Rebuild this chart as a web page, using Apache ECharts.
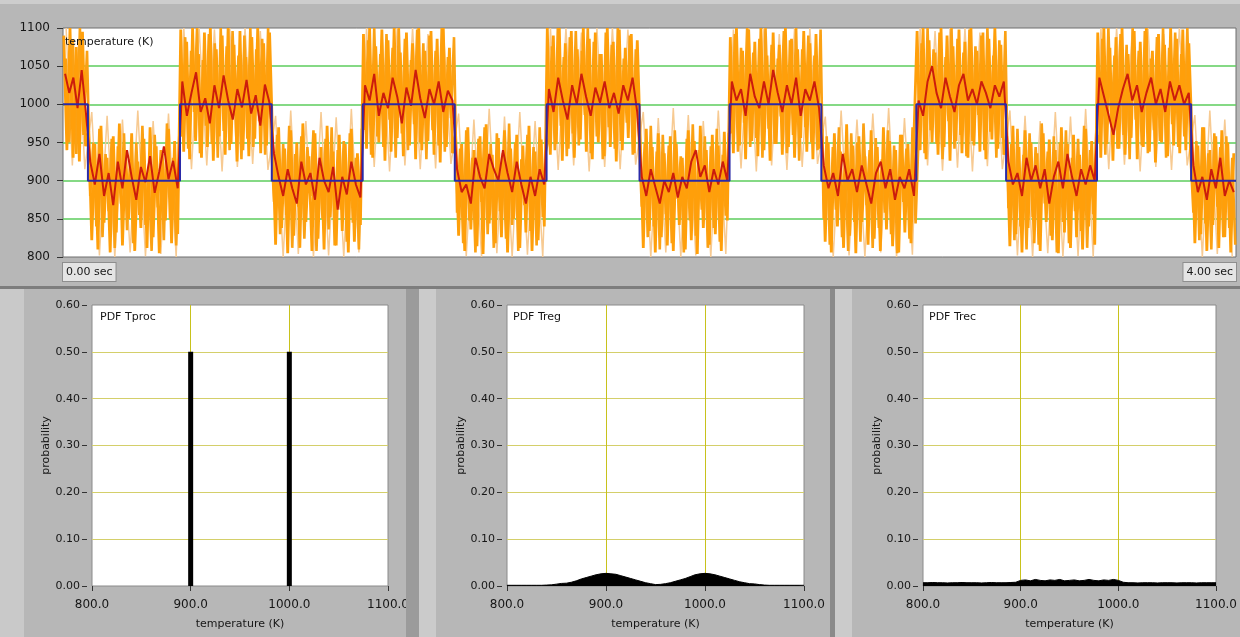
<!DOCTYPE html>
<html>
<head>
<meta charset="utf-8">
<title>PDF Tproc / Treg / Trec</title>
<script src="https://cdn.jsdelivr.net/npm/echarts@6/dist/echarts.min.js"></script>
<style>
  html, body { margin: 0; padding: 0; background: #b7b7b7; }
  #chart { width: 1240px; height: 637px; }
</style>
</head>
<body>
<div id="chart"></div>
<script>
// setpoint switching times (sec) and the Tproc level of each interval (K)
const segEdges = [0, 0.085, 0.399, 0.712, 1.022, 1.336, 1.649, 1.966, 2.273, 2.586, 2.910, 3.216, 3.526, 3.847, 4.0];
const tprocLevels = [1000, 900, 1000, 900, 1000, 900, 1000, 900, 1000, 900, 1000, 900, 1000, 900];

// Trec (orange), one row per interval, samples
const trecSegs = [
  [1090, 940, 1100, 930, 1075, 925, 1095, 945],
  [965, 822, 948, 810, 972, 845, 930, 806, 958, 832, 975, 815, 940, 850, 962, 808, 925, 838, 955, 812, 970, 826, 945, 805, 935, 848, 968, 818, 952, 830],
  [1098, 938, 1082, 928, 1100, 952, 1066, 930, 1094, 944, 1100, 926, 1072, 958, 1090, 934, 1100, 948, 1078, 925, 1096, 940, 1062, 932, 1088, 955, 1100, 936, 1080, 946, 1094],
  [958, 816, 970, 838, 942, 805, 966, 828, 950, 812, 975, 846, 932, 808, 962, 824, 944, 810, 972, 852, 938, 815, 960, 834, 948, 806, 968, 820, 936, 842],
  [1092, 942, 1100, 930, 1076, 950, 1098, 926, 1084, 938, 1100, 956, 1068, 932, 1094, 946, 1080, 928, 1100, 940, 1070, 952, 1096, 934, 1086, 924, 1100, 944, 1074, 936],
  [962, 828, 948, 808, 970, 836, 940, 814, 958, 804, 974, 844, 934, 818, 956, 826, 966, 806, 942, 850, 960, 812, 946, 832, 972, 808, 938, 822, 954, 840],
  [1100, 934, 1090, 948, 1100, 926, 1080, 942, 1096, 930, 1072, 954, 1100, 938, 1086, 928, 1094, 950, 1066, 932, 1100, 944, 1082, 925, 1098, 940, 1074, 956, 1092, 936, 1084],
  [955, 812, 968, 834, 944, 806, 962, 826, 936, 815, 958, 808, 948, 842, 930, 810, 966, 822, 952, 804, 972, 838, 940, 816, 960, 830, 946, 808, 964, 848],
  [1088, 936, 1100, 946, 1070, 928, 1098, 952, 1082, 932, 1100, 940, 1064, 926, 1094, 948, 1078, 934, 1100, 944, 1086, 930, 1072, 956, 1096, 938, 1080, 928, 1092, 942],
  [968, 820, 950, 806, 962, 840, 938, 812, 974, 828, 946, 805, 958, 846, 932, 816, 966, 824, 944, 808, 970, 836, 952, 814, 940, 806, 960, 832, 948, 818, 964],
  [1096, 940, 1100, 928, 1084, 950, 1068, 934, 1100, 944, 1090, 926, 1076, 952, 1098, 936, 1082, 930, 1100, 946, 1070, 938, 1094, 928, 1086, 954, 1100, 942, 1078, 934],
  [958, 814, 972, 830, 944, 806, 966, 838, 950, 818, 936, 808, 962, 846, 954, 822, 940, 805, 970, 832, 948, 812, 960, 826, 934, 810, 968, 840, 952, 816],
  [1094, 930, 1100, 948, 1074, 926, 1088, 942, 1100, 934, 1066, 956, 1096, 928, 1082, 944, 1100, 938, 1070, 924, 1092, 950, 1078, 932, 1100, 946, 1086, 936, 1098, 940, 1080],
  [962, 818, 946, 830, 970, 808, 940, 842, 958, 812, 966, 826, 950, 806, 936]
];

// in-between Trec samples (the trace is denser than one row can hold)
const trecSegsB = [
  [1060, 950, 1085, 935, 1100, 960, 1070],
  [880, 950, 840, 968, 826, 935, 860, 955, 812, 945, 870, 962, 835, 928, 818, 950, 855, 972, 842, 918, 808, 960, 865, 940, 822, 975, 850, 930, 815, 958],
  [960, 1088, 942, 1070, 990, 1100, 936, 1058, 972, 1092, 948, 1080, 930, 1100, 965, 1076, 940, 1096, 985, 1064, 928, 1090, 955, 1100, 944, 1072, 978, 1086, 934, 1100, 952],
  [872, 960, 830, 948, 855, 972, 812, 935, 866, 958, 824, 944, 880, 966, 808, 925, 850, 955, 836, 970, 815, 940, 862, 952, 820, 962, 845, 930, 810, 968],
  [968, 1084, 934, 1100, 958, 1066, 944, 1092, 980, 1074, 930, 1100, 962, 1086, 940, 1058, 974, 1098, 950, 1080, 928, 1090, 966, 1070, 946, 1100, 938, 1062, 982, 1088],
  [858, 942, 818, 966, 848, 930, 806, 955, 872, 970, 830, 948, 812, 962, 860, 936, 824, 975, 842, 950, 808, 928, 868, 960, 834, 944, 815, 970, 852, 938],
  [956, 1076, 940, 1100, 972, 1062, 932, 1088, 962, 1096, 946, 1070, 986, 1100, 936, 1082, 958, 1066, 928, 1094, 970, 1078, 942, 1100, 952, 1060, 976, 1090, 934, 1072, 960],
  [866, 950, 826, 972, 840, 938, 810, 960, 856, 946, 818, 966, 876, 932, 806, 955, 848, 974, 828, 940, 862, 958, 812, 945, 838, 968, 820, 934, 854, 962],
  [964, 1092, 938, 1074, 976, 1100, 944, 1068, 956, 1086, 930, 1100, 968, 1078, 948, 1060, 984, 1096, 936, 1084, 960, 1100, 926, 1072, 970, 1090, 950, 1064, 940, 1098],
  [850, 958, 816, 944, 862, 970, 826, 936, 808, 962, 846, 950, 820, 975, 868, 940, 812, 956, 838, 928, 858, 966, 830, 946, 805, 960, 872, 942, 824, 970, 844],
  [958, 1080, 936, 1100, 966, 1072, 948, 1094, 928, 1062, 978, 1100, 942, 1086, 960, 1068, 932, 1098, 952, 1076, 986, 1090, 940, 1100, 964, 1064, 930, 1084, 956, 1096],
  [864, 948, 822, 968, 840, 934, 810, 962, 852, 944, 816, 975, 870, 938, 828, 958, 806, 950, 846, 966, 818, 930, 860, 955, 834, 972, 812, 940, 856, 962],
  [950, 1086, 934, 1100, 970, 1064, 942, 1092, 960, 1078, 928, 1100, 980, 1070, 946, 1096, 936, 1060, 966, 1088, 952, 1100, 930, 1074, 974, 1094, 944, 1066, 958, 1100, 938],
  [858, 952, 822, 970, 844, 936, 810, 962, 866, 944, 826, 958, 838, 930, 816]
];

// faint outer spikes of Trec
const trecPaleSegs = [
  [1100, 920, 1080, 915],
  [990, 802, 985, 800, 980, 806, 992, 801, 978, 804, 988, 800],
  [1100, 915, 1100, 920, 1098, 912, 1100, 918, 1100, 922, 1096, 914],
  [985, 800, 992, 804, 978, 800, 990, 802, 983, 800, 994, 806],
  [1100, 918, 1096, 912, 1100, 920, 1100, 915, 1092, 916, 1100, 922],
  [988, 801, 980, 800, 994, 805, 984, 800, 990, 803, 978, 800],
  [1100, 914, 1100, 920, 1094, 912, 1100, 918, 1100, 915, 1098, 921],
  [990, 800, 982, 806, 995, 800, 986, 802, 978, 800, 992, 804],
  [1098, 916, 1100, 912, 1100, 920, 1092, 914, 1100, 918, 1100, 922],
  [984, 800, 992, 802, 980, 800, 988, 806, 995, 800, 982, 803],
  [1100, 920, 1096, 913, 1100, 917, 1100, 912, 1094, 919, 1100, 915],
  [992, 802, 985, 800, 978, 805, 990, 800, 984, 801, 994, 800],
  [1100, 915, 1100, 921, 1098, 912, 1100, 918, 1092, 914, 1100, 920],
  [986, 800, 992, 804, 980, 800]
];

// Treg (red)
const tregSegs = [
  [1040, 1015, 1035, 995, 1045, 990],
  [925, 895, 935, 880, 910, 868, 925, 890, 940, 905, 875, 918, 898, 932, 884, 912, 945, 902, 926, 890],
  [1030, 985, 1015, 1042, 990, 1008, 975, 1025, 995, 1038, 1005, 980, 1020, 996, 1032, 988, 1012, 972, 1026, 1002],
  [935, 905, 880, 915, 890, 870, 925, 895, 910, 875, 930, 900, 885, 918, 862, 905, 882, 925, 895, 878],
  [1025, 1005, 1040, 985, 1015, 995, 1035, 1010, 975, 1022, 998, 1045, 1008, 982, 1020, 1000, 1030, 990, 1018, 1005],
  [915, 885, 895, 870, 930, 905, 890, 935, 915, 900, 940, 910, 885, 925, 895, 870, 905, 880, 915, 895],
  [1020, 990, 1035, 1005, 980, 1025, 1000, 1040, 1010, 985, 1022, 1002, 1030, 995, 1015, 988, 1025, 1005, 1035, 990],
  [905, 880, 915, 892, 870, 900, 885, 910, 878, 905, 890, 925, 940, 905, 920, 885, 915, 895, 925, 900],
  [1030, 1005, 1020, 985, 1040, 1010, 995, 1030, 1000, 1045, 1015, 990, 1025, 1000, 1035, 985, 1020, 1005, 1030, 995],
  [920, 890, 910, 880, 935, 900, 915, 885, 920, 895, 870, 910, 925, 890, 915, 875, 905, 890, 915, 880],
  [1005, 985, 1030, 1050, 1015, 995, 1035, 1010, 990, 1025, 1040, 1005, 1020, 1000, 1030, 1015, 995, 1025, 1010, 1030],
  [925, 895, 910, 880, 930, 900, 920, 890, 915, 870, 905, 925, 890, 935, 905, 880, 915, 895, 920, 900],
  [1035, 1010, 985, 960, 995, 1020, 1040, 1005, 1025, 990, 1015, 1035, 1000, 1020, 990, 1030, 1005, 1025, 1000, 1015],
  [920, 885, 905, 875, 915, 890, 930, 880, 900, 885]
];

// probability density, bins of 5 K from 800 to 1100
const pdfBinStart = 800;
const pdfBinStep = 5;
const tprocPdf = [[900, 0.50], [1000, 0.50]];
const tregPdf = [
  0.0015, 0.0015, 0.0015, 0.0015, 0.0015, 0.0015, 0.0015, 0.0015, 0.002, 0.0025,
  0.004, 0.0055, 0.006, 0.008, 0.011, 0.015, 0.018, 0.021, 0.024, 0.026,
  0.027, 0.026, 0.025, 0.022, 0.019, 0.016, 0.013, 0.010, 0.007, 0.005,
  0.003, 0.0035, 0.005, 0.007, 0.010, 0.013, 0.016, 0.020, 0.024, 0.026,
  0.027, 0.026, 0.024, 0.021, 0.018, 0.015, 0.012, 0.009, 0.007, 0.005,
  0.0045, 0.003, 0.002, 0.0015, 0.0015, 0.0015, 0.0015, 0.0015, 0.0015, 0.0015, 0.0015
];
const trecPdf = [
  0.007, 0.007, 0.0075, 0.007, 0.007, 0.0065, 0.007, 0.007, 0.0075, 0.007,
  0.007, 0.007, 0.0065, 0.007, 0.0075, 0.007, 0.007, 0.007, 0.0075, 0.008,
  0.012, 0.013, 0.011, 0.014, 0.012, 0.011, 0.013, 0.012, 0.014, 0.011,
  0.012, 0.013, 0.011, 0.012, 0.014, 0.012, 0.011, 0.013, 0.012, 0.014,
  0.012, 0.008, 0.007, 0.007, 0.0065, 0.007, 0.007, 0.007, 0.0065, 0.007,
  0.007, 0.007, 0.0065, 0.007, 0.007, 0.007, 0.0065, 0.007, 0.007, 0.007, 0.007
];

const font = '"DejaVu Sans", Verdana, sans-serif';
const textColor = '#161616';

// place each interval's samples evenly across its time span
function spread(segs, shift) {
  const out = [];
  segs.forEach((vals, k) => {
    const t0 = segEdges[k], t1 = segEdges[k + 1];
    const step = (t1 - t0) / vals.length;
    vals.forEach((v, j) => out.push([t0 + (j + shift) * step, v]));
  });
  return out;
}

function binned(vals) {
  return vals.map((v, i) => [pdfBinStart + i * pdfBinStep, v]);
}

const tprocPath = [];
tprocLevels.forEach((lv, k) => {
  tprocPath.push([segEdges[k], lv], [segEdges[k + 1], lv]);
});

const pdfGrids = [
  { left: 92, top: 305, width: 296, height: 281 },
  { left: 507, top: 305, width: 297, height: 281 },
  { left: 923, top: 305, width: 295, height: 281 },
];

function pdfX(i) {
  return {
    type: 'value', gridIndex: i + 1, min: 800, max: 1100, interval: 100, offset: 3,
    name: 'temperature (K)', nameLocation: 'middle', nameGap: 30,
    nameTextStyle: { fontSize: 11, color: textColor, fontFamily: font },
    axisLine: { show: false },
    axisTick: { show: true, length: 5, lineStyle: { color: '#333' } },
    axisLabel: { fontSize: 12, color: textColor, fontFamily: font, margin: 10, formatter: v => v.toFixed(1) },
    splitLine: { show: true, showMinLine: false, showMaxLine: false, lineStyle: { color: '#c8c21c', width: 1 } },
  };
}

function pdfY(i) {
  return {
    type: 'value', gridIndex: i + 1, min: 0, max: 0.6, interval: 0.1, offset: 5,
    name: 'probability', nameLocation: 'middle', nameGap: 33, nameRotate: 90,
    nameTextStyle: { fontSize: 11, color: textColor, fontFamily: font },
    axisLine: { show: false },
    axisTick: { show: true, length: 5, lineStyle: { color: '#333' } },
    axisLabel: { fontSize: 11, color: textColor, fontFamily: font, margin: 7, formatter: v => v.toFixed(2) },
    splitLine: { show: true, showMinLine: false, showMaxLine: false, lineStyle: { color: '#d4cf6a', width: 1 } },
  };
}

function panelText(x, y, s) {
  return { type: 'text', left: x, top: y, z: 100, style: { text: s, font: '11px ' + font, fill: textColor } };
}

const chart = echarts.init(document.getElementById('chart'));
chart.setOption({
  animation: false,
  backgroundColor: '#b7b7b7',
  grid: [
    { left: 63, top: 28, width: 1174, height: 229, show: true, backgroundColor: '#fff', borderColor: '#6e6e6e', borderWidth: 1 },
    ...pdfGrids.map(g => Object.assign({ show: true, backgroundColor: '#fff', borderColor: '#8a8a8a', borderWidth: 1 }, g)),
  ],
  xAxis: [
    {
      type: 'value', gridIndex: 0, min: 0, max: 4, interval: 4,
      axisLine: { show: false }, axisTick: { show: false }, splitLine: { show: false },
      axisLabel: {
        formatter: v => v.toFixed(2) + ' sec', alignMinLabel: 'left', alignMaxLabel: 'right',
        margin: 6, fontSize: 11, color: textColor, fontFamily: font,
        backgroundColor: '#e4e4e4', borderColor: '#8e8e8e', borderWidth: 1, padding: [4, 3, 3, 3],
      },
    },
    pdfX(0), pdfX(1), pdfX(2),
  ],
  yAxis: [
    {
      type: 'value', gridIndex: 0, min: 800, max: 1100, interval: 50, offset: 4,
      axisLine: { show: false },
      axisTick: { show: true, length: 6, lineStyle: { color: '#333' } },
      axisLabel: { fontSize: 12, color: textColor, fontFamily: font, margin: 9, formatter: v => String(v) },
      splitLine: { show: true, showMinLine: false, showMaxLine: false, lineStyle: { color: '#5ccd5c', width: 1.5 } },
    },
    pdfY(0), pdfY(1), pdfY(2),
  ],
  series: [
    { name: 'Trec spikes', type: 'line', xAxisIndex: 0, yAxisIndex: 0, data: spread(trecPaleSegs, 0.5), showSymbol: false, silent: true, lineStyle: { color: '#f7ca92', width: 1.5 } },
    { name: 'Trec', type: 'line', xAxisIndex: 0, yAxisIndex: 0, data: spread(trecSegsB, 0.75), showSymbol: false, silent: true, lineStyle: { color: '#fba114', width: 2.6 } },
    { name: 'Trec', type: 'line', xAxisIndex: 0, yAxisIndex: 0, data: spread(trecSegs, 0.25), showSymbol: false, silent: true, lineStyle: { color: '#ff9f0a', width: 2.8 } },
    { name: 'Treg', type: 'line', xAxisIndex: 0, yAxisIndex: 0, data: spread(tregSegs, 0.5), showSymbol: false, silent: true, lineStyle: { color: '#cc1c0c', width: 2 } },
    { name: 'Tproc', type: 'line', xAxisIndex: 0, yAxisIndex: 0, data: tprocPath, showSymbol: false, silent: true, lineStyle: { color: '#2a2aa8', width: 2 } },
    { name: 'PDF Tproc', type: 'bar', xAxisIndex: 1, yAxisIndex: 1, data: tprocPdf, barWidth: 5, itemStyle: { color: '#000' } },
    { name: 'PDF Treg', type: 'line', xAxisIndex: 2, yAxisIndex: 2, data: binned(tregPdf), showSymbol: false, lineStyle: { color: '#000', width: 1 }, areaStyle: { color: '#000', opacity: 1 } },
    { name: 'PDF Trec', type: 'line', xAxisIndex: 3, yAxisIndex: 3, data: binned(trecPdf), showSymbol: false, lineStyle: { color: '#000', width: 1 }, areaStyle: { color: '#000', opacity: 1 } },
  ],
  graphic: [
    { type: 'rect', shape: { x: 0, y: 0, width: 1240, height: 4 }, style: { fill: '#cdcdcd' } },
    { type: 'rect', shape: { x: 0, y: 286, width: 1240, height: 3 }, style: { fill: '#7d7d7d' } },
    { type: 'rect', shape: { x: 0, y: 289, width: 24, height: 348 }, style: { fill: '#c9c9c9' } },
    { type: 'rect', shape: { x: 406, y: 289, width: 13, height: 348 }, style: { fill: '#9b9b9b' }, z: 100 },
    { type: 'rect', shape: { x: 419, y: 289, width: 17, height: 348 }, style: { fill: '#cbcbcb' } },
    { type: 'rect', shape: { x: 830, y: 289, width: 5, height: 348 }, style: { fill: '#8a8a8a' }, z: 100 },
    { type: 'rect', shape: { x: 835, y: 289, width: 17, height: 348 }, style: { fill: '#cbcbcb' } },
    panelText(65, 37, 'temperature (K)'),
    panelText(100, 312, 'PDF Tproc'),
    panelText(513, 312, 'PDF Treg'),
    panelText(929, 312, 'PDF Trec'),
  ],
});
</script>
</body>
</html>
